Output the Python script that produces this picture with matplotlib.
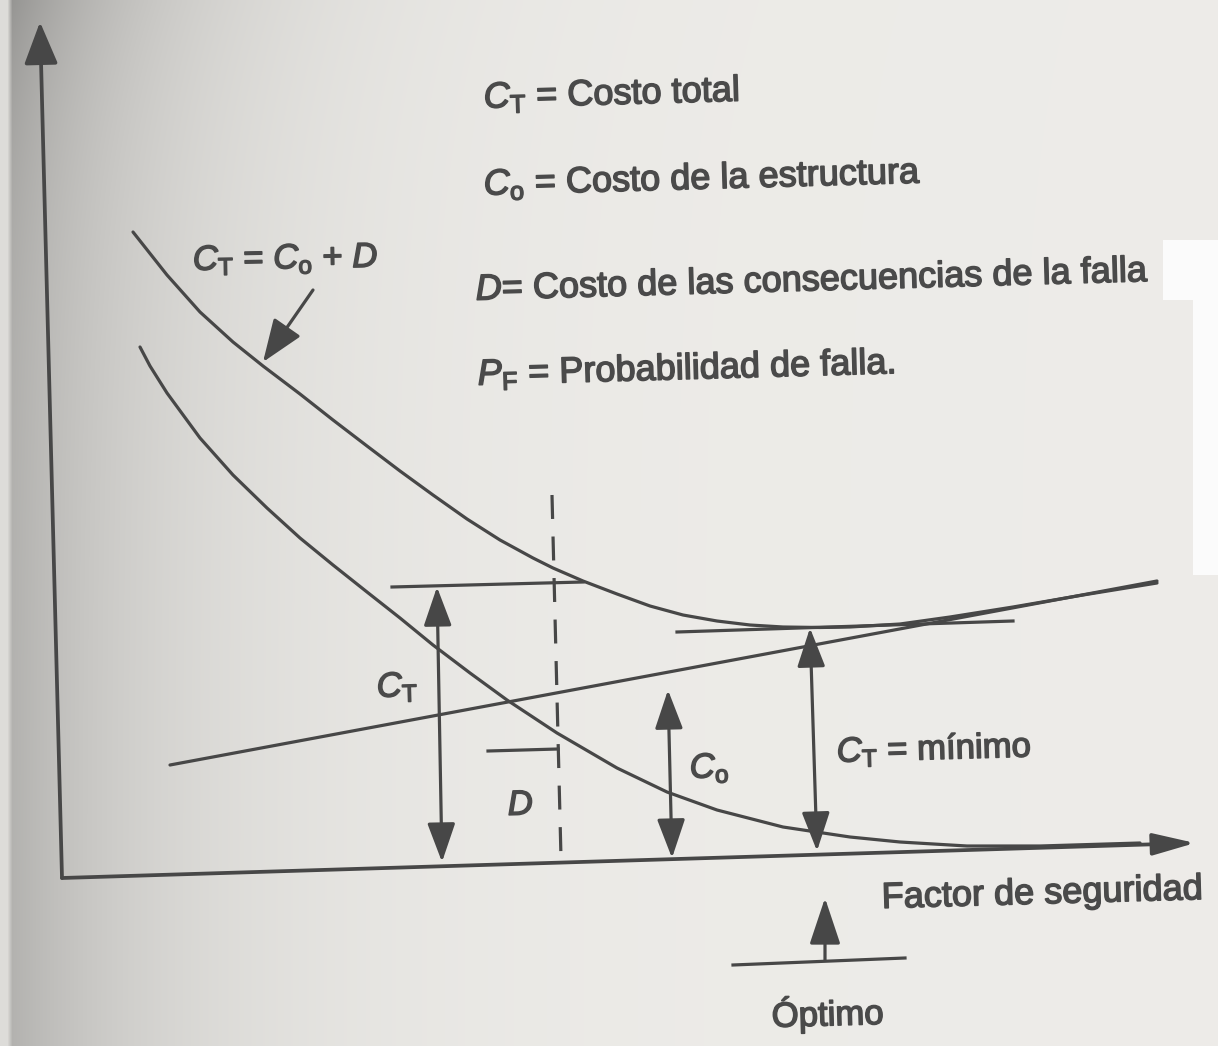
import numpy as np
import matplotlib.pyplot as plt
import matplotlib.patheffects as pe
from matplotlib.patches import ArrowStyle, Polygon

# Fuente tipo Helvetica y cursivas para los símbolos
plt.rcParams['font.family'] = ['Liberation Sans', 'DejaVu Sans']
plt.rcParams['mathtext.fontset'] = 'custom'
plt.rcParams['mathtext.rm'] = 'Liberation Sans'
plt.rcParams['mathtext.it'] = 'Liberation Sans:italic'

LINE = '#474747'
TEXT = '#4a4a4a'

# Costo total C_T = C_o + D (curva superior)
ct_x = [133, 167, 200, 233, 263, 300, 333, 367, 400, 433, 467, 500, 533, 553,
        583, 617, 650, 683, 717, 750, 783, 820, 850, 900, 950, 1013, 1083, 1157]
ct_y = [232, 275, 312, 342, 366, 394, 420, 446, 471, 495, 519, 540, 558, 568,
        581, 594, 606, 615, 621, 625, 627, 627.5, 627, 624, 617, 607, 595, 583]

# Costo de las consecuencias de la falla D (curva inferior)
d_x = [140, 150, 167, 200, 233, 267, 300, 333, 367, 400, 433, 470, 507, 557,
       617, 667, 717, 783, 850, 900, 967, 1040, 1140]
d_y = [347, 366, 393, 438, 475, 508, 538, 565, 592, 618, 645, 673, 700, 733,
       768, 792, 810, 827, 837, 842, 846, 846, 843]

# Costo de la estructura C_o (recta)
co_x = [170, 1157]
co_y = [765, 581]

# Ejes (origen, extremo vertical, extremo horizontal)
origen = (62, 878)
eje_y = (40, 22)
eje_x = (1195, 843)

fig = plt.figure(figsize=(12.18, 10.46), dpi=100)
ax = fig.add_axes([0, 0, 1, 1])
ax.set_xlim(0, 1218)
ax.set_ylim(1046, 0)
ax.axis('off')

# fondo del papel escaneado, más oscuro hacia el lomo
gx, gy = np.meshgrid(np.linspace(0, 1218, 244), np.linspace(0, 1046, 210))
tono = 0.93 - 0.24 * np.exp(-gx / 170) - 0.12 * np.exp(-(gx + gy) / 160)
tono[:, gx[0] < 6] = 0.87
fondo = np.dstack([tono, tono * 0.995, tono * 0.98])
ax.imshow(np.clip(fondo, 0, 1), extent=[0, 1218, 1046, 0], aspect='auto',
          interpolation='bilinear', zorder=0)
ax.add_patch(Polygon([(1163, 240), (1218, 240), (1218, 575), (1193, 575),
                      (1193, 300), (1163, 300)], closed=True,
                     facecolor='#fbfbfb', edgecolor='none', zorder=0.5))

# trazo un poco más grueso para imitar la tinta impresa
tinta = [pe.withStroke(linewidth=1.1, foreground=TEXT)]


def flecha(tail, tip, doble=False, ms=24, hl=1.0, hw=0.36, lw=2.3):
    estilo = ArrowStyle('<|-|>' if doble else '-|>', head_length=hl, head_width=hw)
    ax.annotate('', xy=tip, xytext=tail,
                arrowprops=dict(arrowstyle=estilo, mutation_scale=ms, lw=lw,
                                color=LINE, shrinkA=0, shrinkB=0))


def texto(x, y, s, size=26, rot=1.6):
    ax.text(x, y, s, fontsize=size, color=TEXT, ha='left', va='baseline',
            rotation=rot, rotation_mode='anchor', path_effects=tinta)


# ejes
flecha(origen, eje_y, ms=26, hl=1.0, hw=0.4, lw=2.7)
flecha(origen, eje_x, ms=26, hl=1.0, hw=0.26, lw=2.7)

# curvas
ax.plot(ct_x, ct_y, color=LINE, lw=2.3, solid_joinstyle='round', solid_capstyle='round')
ax.plot(d_x, d_y, color=LINE, lw=2.3, solid_joinstyle='round', solid_capstyle='round')
ax.plot(co_x, co_y, color=LINE, lw=2.3, solid_capstyle='round')

# línea discontinua vertical
ax.plot([552, 561], [495, 858], color=LINE, lw=2.3, ls=(0, (7.5, 5.5)))

# cota de C_T
ax.plot([392, 583], [587, 582], color=LINE, lw=2.3)
flecha((442, 862), (437, 587), doble=True)
# nivel de D
ax.plot([488, 558], [751, 749], color=LINE, lw=2.3)
# cota de C_o
flecha((672, 858), (668, 690), doble=True)
# mínimo de C_T
ax.plot([677, 1013], [632, 621], color=LINE, lw=2.3)
flecha((817, 851), (810, 628), doble=True)

# etiqueta de la curva total
flecha((313, 290), (263, 362), ms=24, hl=1.1, hw=0.42)

# óptimo
ax.plot([733, 905], [965, 958], color=LINE, lw=2.3)
flecha((825, 960), (825, 898), ms=24, hl=1.2, hw=0.4)

# leyenda
texto(484, 108, r'$C_\mathrm{T}$ = Costo total')
texto(484, 195, r'$C_\mathrm{o}$ = Costo de la estructura')
texto(476, 300, r'$D$= Costo de las consecuencias de la falla')
texto(478, 385, r'$P_\mathrm{F}$ = Probabilidad de falla.')

# rótulos sobre el gráfico
texto(193, 270, r'$C_\mathrm{T}$ = $C_\mathrm{o}$ + $D$', size=25, rot=1.0)
texto(377, 697, r'$C_\mathrm{T}$', size=25)
texto(508, 815, r'$D$', size=25)
texto(690, 778, r'$C_\mathrm{o}$', size=25)
texto(837, 762, r'$C_\mathrm{T}$ = mínimo', size=25)
texto(882, 908, 'Factor de seguridad', size=26)
texto(772, 1027, 'Óptimo', size=25)

plt.savefig('out.png', dpi=100)
